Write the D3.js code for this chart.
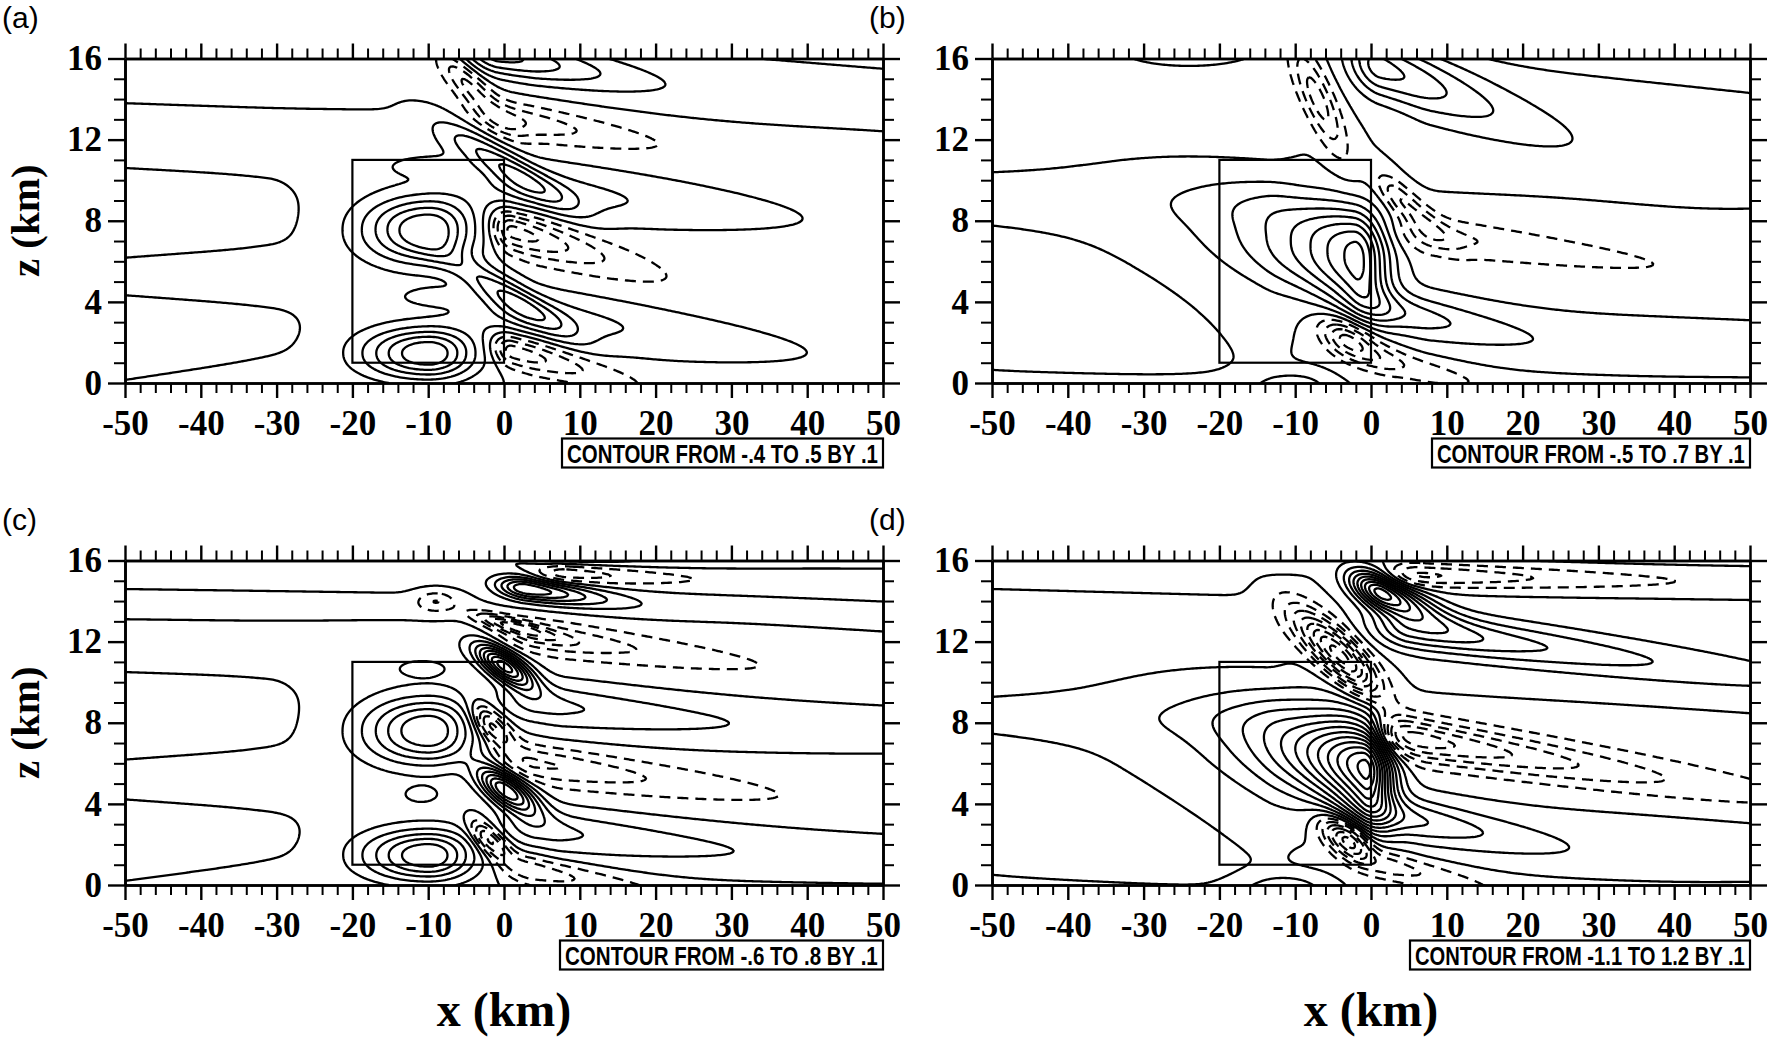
<!DOCTYPE html>
<html>
<head>
<meta charset="utf-8">
<script src="https://cdn.jsdelivr.net/npm/d3@7"></script>
<style>
  body { margin: 0; background: #fff; }
  svg text { fill: #000; }
</style>
</head>
<body>
<svg id="chart" width="1769" height="1038"></svg>
<script>
// contour levels written on each panel's legend
var levelsA = [-0.4, -0.3, -0.2, -0.1, 0, 0.1, 0.2, 0.3, 0.4, 0.5];
var levelsB = [-0.5, -0.4, -0.3, -0.2, -0.1, 0, 0.1, 0.2, 0.3, 0.4, 0.5, 0.6, 0.7];
var levelsC = [-0.6, -0.5, -0.4, -0.3, -0.2, -0.1, 0, 0.1, 0.2, 0.3, 0.4, 0.5, 0.6, 0.7, 0.8];
var levelsD = [-1.1, -1.0, -0.9, -0.8, -0.7, -0.6, -0.5, -0.4, -0.3, -0.2, -0.1, 0,
               0.1, 0.2, 0.3, 0.4, 0.5, 0.6, 0.7, 0.8, 0.9, 1.0, 1.1, 1.2];

var xTicks = [-50, -40, -30, -20, -10, 0, 10, 20, 30, 40, 50];
var xMinor = [-48, -46, -44, -42, -38, -36, -34, -32, -28, -26, -24, -22, -18, -16, -14, -12,
              -8, -6, -4, -2, 2, 4, 6, 8, 12, 14, 16, 18, 22, 24, 26, 28, 32, 34, 36, 38, 42, 44, 46, 48];
var zTicks = [0, 4, 8, 12, 16];
var zMinor = [1, 2, 3, 5, 6, 7, 9, 10, 11, 13, 14, 15];

// heating box (km)
var boxX = [-20, 0], boxZ = [1, 11];

// field features, in km
// lobe: [x0, z0, amp, wLeft, wRight, pLeft, pRight, h, q, ridge slope dz/dx]
var lobesA = [
  [-10, 7.55, 0.56, 8, 6, 2, 2, 1.55, 2.2, 0],
  [-10, 1.45, 0.56, 8, 6, 2, 2, 1.2, 2.2, 0],
  [-12, 6, 0.04, 13, 8, 2, 4, 6.5, 6, 0],
  [-10, 10.65, 0.085, 4.75, 4.75, 2, 2, 0.45, 2, 0],
  [-9.8, 4.25, 0.085, 4.75, 4.75, 2, 2, 0.5, 2, 0],
  [0.5, 10.6, 0.33, 8, 8, 2, 2, 0.85, 2, -0.22],
  [3, 9.5, 0.22, 8, 23, 2, 1.3, 1.2, 2, -0.04],
  [0.5, 4.3, 0.33, 8, 8, 2, 2, 0.85, 2, -0.22],
  [3, 3.3, 0.22, 8, 21.5, 2, 1.3, 1.2, 2, -0.045],
  [1, 7.5, -0.45, 2.5, 12, 2, 1.3, 1.0, 2, -0.11],
  [1, 1.6, -0.38, 2.5, 12, 2, 1.3, 0.8, 2, -0.1],
  [-4.5, 14.6, -0.3, 4, 5, 2, 2, 0.9, 2, -0.35],
  [2, 12.9, -0.28, 6, 15, 2, 1.2, 0.85, 2, -0.06],
  [-1, 16.2, 0.45, 5, 14, 2, 1.3, 1.0, 2, -0.07]
];
var lobesB = [
  [-50, 3.7, -0.13, 1000, 28, 2, 2, 3.3, 2, -0.065],
  [-45, -0.6, 0.12, 1000, 22, 2, 2, 1.0, 2, 0],
  [-24, 16.35, 0.09, 7.8, 7.8, 2, 2, 0.7, 2, 0],
  [-2, 6.15, 0.75, 11.9, 4, 1.3, 2, 2.4, 2.5, -0.1],
  [2, 3.6, 0.3, 5, 14, 2, 1.3, 1.0, 2, -0.07],
  [1, 15.6, 0.45, 4, 15, 2, 1.3, 1.5, 2, -0.14],
  [-7, 14, -0.35, 3.5, 3.5, 2, 2, 1.6, 2, -0.6],
  [4, 9, -0.3, 3, 5, 2, 2, 0.8, 2, -0.3],
  [8, 7.3, -0.2, 5, 25, 2, 1.1, 0.9, 2, -0.05],
  [-3, 2.1, -0.45, 3.5, 4, 2, 2, 0.9, 2, -0.15],
  [3, 1.0, -0.2, 4, 10, 2, 1.3, 0.7, 2, -0.08],
  [-10, -0.4, 0.25, 5, 4, 2, 2, 0.8, 2, 0]
];
var lobesC = [
  [-10, 7.6, 0.56, 8, 6, 2, 2, 1.55, 2.2, 0],
  [-10, 1.45, 0.56, 8, 6, 2, 2, 1.2, 2.2, 0],
  [-12, 6, 0.04, 13, 8, 2, 4, 6.5, 6, 0],
  [-10.8, 10.65, 0.09, 2.9, 2.9, 2, 2, 0.37, 2, 0],
  [-10.9, 4.45, 0.09, 3, 3, 2, 2, 0.52, 2, 0],
  [0, 10.8, 0.85, 3.6, 3.8, 2, 2, 0.75, 2, -0.2],
  [0.15, 4.7, 0.8, 3.6, 4.2, 2, 2, 0.85, 2, -0.2],
  [4, 9.0, 0.22, 5, 22, 2, 1.2, 1.0, 2, -0.04],
  [4, 2.8, 0.22, 5, 22, 2, 1.2, 1.0, 2, -0.04],
  [-1.8, 7.9, -0.5, 2.3, 3, 2, 2, 0.8, 2, -0.25],
  [4, 6.0, -0.3, 5, 22, 2, 1.2, 0.9, 2, -0.05],
  [-2, 2.2, -0.5, 2.3, 3, 2, 2, 0.7, 2, -0.25],
  [4, 0.7, -0.28, 4, 12, 2, 1.3, 0.7, 2, -0.06],
  [4, 12.3, -0.3, 5, 20, 2, 1.2, 0.8, 2, -0.05],
  [3, 14.6, 0.6, 4, 9, 2, 1.5, 0.55, 2, -0.05],
  [6, 16.4, 0.3, 3, 10, 2, 1.3, 0.5, 2, -0.03],
  [-9, 14, -0.18, 2.5, 2.5, 2, 2, 0.5, 2, 0],
  [8, 15.4, -0.25, 4, 14, 2, 1.3, 0.5, 2, -0.015],
  [0, 12.9, -0.4, 4, 6, 2, 2, 0.35, 2, -0.1]
];
var lobesD = [
  [-50, 3.75, -0.13, 1000, 30.7, 2, 2, 3.2, 2, -0.085],
  [-45, -0.9, 0.12, 1000, 24, 2, 2, 1.0, 2, 0],
  [-0.8, 5.8, 1.25, 11.5, 3.5, 1.3, 2, 2.3, 2, -0.1],
  [2, 3.5, 0.35, 5, 16, 2, 1.3, 1.0, 2, -0.07],
  [1.4, 14.4, 0.95, 4, 6, 2, 1.5, 0.85, 2, -0.15],
  [5, 12.6, 0.4, 5, 35, 2, 1.3, 1.0, 2, -0.05],
  [-4, 11.3, -0.85, 6, 5, 2, 2, 1.2, 2, -0.3],
  [4, 7.3, -0.55, 4, 30, 2, 1.2, 1.0, 2, -0.06],
  [-3, 2.2, -0.7, 3.5, 3, 2, 2, 0.9, 2, -0.2],
  [3, 0.9, -0.25, 4, 10, 2, 1.3, 0.7, 2, -0.08],
  [6, 15.3, -0.3, 4, 25, 2, 1.2, 0.6, 2, -0.01],
  [-11, -0.4, 0.25, 5.5, 4.5, 2, 2, 0.8, 2, 0]
];

// far-field layers: [xFrom, xTo, xEdge, zBottom, zTop, sign, slopeBottom, slopeTop]
var layersA = [
  [-70, -6, -50, 13.8, 17.5, -1, -0.013, 0],
  [-70, -6, -50, 10.6, 13.8, 1, -0.02, -0.013],
  [-70, -31, -50, 6.2, 10.6, -1, 0.025, -0.02],
  [-70, -31, -50, 4.3, 6.2, 1, -0.025, 0.025],
  [-70, -31, -50, 0.15, 4.3, -1, 0.057, -0.025],
  [-70, -31, -50, -1.5, 0.15, 1, 0, 0.057],
  [5, 70, 50, 15.6, 17.5, -1, -0.03, 0],
  [5, 70, 50, 12.5, 15.6, 1, -0.035, -0.03],
  [5, 70, 50, -1.5, 12.5, -1, 0, -0.035]
];
var layersB = [
  [-70, -14, -50, 10.3, 17.5, -1, 0, 0],
  [-70, -14, -50, 7.7, 10.3, 1, 0, 0],
  [-70, -14, -50, -1.5, 7.7, 1, 0, 0],
  [8, 70, 50, 14.3, 17.5, -1, -0.04, 0],
  [8, 70, 50, 8.8, 14.3, 1, -0.015, -0.04],
  [8, 70, 50, 3.1, 8.8, -1, -0.015, -0.015],
  [8, 70, 50, 0.3, 3.1, 1, -0.01, -0.015],
  [8, 70, 50, -1.5, 0.3, -1, 0, -0.01]
];
var layersC = [
  [-70, -8, -50, 14.6, 17.5, 1, -0.005, 0],
  [-70, -8, -50, 13.1, 14.6, -1, -0.005, -0.005],
  [-70, -8, -50, 10.5, 13.1, 1, -0.012, -0.005],
  [-70, -31, -50, 6.2, 10.5, -1, 0.025, -0.012],
  [-70, -31, -50, 4.2, 6.2, 1, -0.025, 0.025],
  [-70, -31, -50, 0.2, 4.2, -1, 0.05, -0.025],
  [-70, -31, -50, -1.5, 0.2, 1, 0, 0.05],
  [8, 70, 50, 15.6, 17.5, 1, 0, 0],
  [8, 70, 50, 14.0, 15.6, -1, -0.017, 0],
  [8, 70, 50, 12.5, 14.0, 1, -0.023, -0.017],
  [8, 70, 50, 8.9, 12.5, -1, -0.013, -0.023],
  [8, 70, 50, 6.8, 8.9, 1, 0, -0.013],
  [8, 70, 50, 2.6, 6.8, -1, -0.013, 0],
  [8, 70, 50, 0.2, 2.6, 1, -0.005, -0.013],
  [8, 70, 50, -1.5, 0.2, -1, 0, -0.005]
];
var layersD = [
  [-70, -14, -50, 14.6, 17.5, 1, -0.01, 0],
  [-70, -14, -50, 9.3, 14.6, -1, 0, -0.01],
  [-70, -14, -50, 7.2, 9.3, 1, 0, 0],
  [-70, -14, -50, -1.5, 7.2, 1, 0, 0],
  [8, 70, 50, 15.7, 17.5, 1, 0, 0],
  [8, 70, 50, 14.2, 15.7, -1, -0.01, 0],
  [8, 70, 50, 8.6, 14.2, 1, -0.02, -0.01],
  [8, 70, 50, 3.4, 8.6, -1, -0.015, -0.02],
  [8, 70, 50, 0.25, 3.4, 1, -0.01, -0.015],
  [8, 70, 50, -1.5, 0.25, -1, 0, -0.01]
];

var panels = [
  { tag: '(a)', ox: 125, oy: 58.5, lobes: lobesA, layers: layersA, levels: levelsA,
    legend: 'CONTOUR FROM -.4 TO .5 BY .1', legendW: 321 },
  { tag: '(b)', ox: 992, oy: 58.5, lobes: lobesB, layers: layersB, levels: levelsB,
    legend: 'CONTOUR FROM -.5 TO .7 BY .1', legendW: 318 },
  { tag: '(c)', ox: 125, oy: 560.5, lobes: lobesC, layers: layersC, levels: levelsC,
    legend: 'CONTOUR FROM -.6 TO .8 BY .1', legendW: 323 },
  { tag: '(d)', ox: 992, oy: 560.5, lobes: lobesD, layers: layersD, levels: levelsD,
    legend: 'CONTOUR FROM -1.1 TO 1.2 BY .1', legendW: 340 }
];

var W = 758, H = 324.5;
var nx = 401, nz = 257, gx0 = -50, gdx = 0.25, gdz = 0.0625;
var layerAmp = 0.04, layerFade = 4;

function lobeAt(L, xx, zz) {
  var dx = xx - L[0], left = dx < 0;
  var ex = Math.pow(Math.abs(dx) / (left ? L[3] : L[4]), left ? L[5] : L[6]);
  var ez = Math.pow(Math.abs(zz - L[1] - L[9] * dx) / L[7], L[8]);
  return L[2] * Math.exp(-ex - ez);
}

function layerAt(Y, xx, zz) {
  var d = Math.max(0, Y[0] - xx, xx - Y[1]) / layerFade;
  var zb = Y[3] + Y[6] * (xx - Y[2]), zt = Y[4] + Y[7] * (xx - Y[2]);
  var zc = (zb + zt) / 2, hz = (zt - zb) / 2, t = (zz - zc) / hz;
  return Y[5] * layerAmp * Math.exp(-d * d - t * t);
}

function fieldGrid(lobes, layers) {
  var v = new Array(nx * nz);
  for (var j = 0; j < nz; j++) {
    var zz = j * gdz;
    for (var i = 0; i < nx; i++) {
      var xx = gx0 + i * gdx, s = 0, k;
      for (k = 0; k < lobes.length; k++) s += lobeAt(lobes[k], xx, zz);
      for (k = 0; k < layers.length; k++) s += layerAt(layers[k], xx, zz);
      v[j * nx + i] = s;
    }
  }
  return v;
}

// drop the pieces of a ring that run along the grid border, keep isolines
function splitRing(ring) {
  var eps = 1e-9;
  function onB(p) { return p[0] <= eps || p[0] >= nx - eps || p[1] <= eps || p[1] >= nz - eps; }
  var n = ring.length - 1, segB = [], anyB = false, i;
  for (i = 0; i < n; i++) {
    var b = onB(ring[i]) && onB(ring[i + 1]);
    segB.push(b);
    if (b) anyB = true;
  }
  if (!anyB) return [ring];
  var start = segB.indexOf(true), lines = [], cur = [];
  for (var t = 1; t <= n; t++) {
    i = (start + t) % n;
    if (segB[i]) { if (cur.length > 1) lines.push(cur); cur = []; }
    else { if (!cur.length) cur.push(ring[i]); cur.push(ring[i + 1]); }
  }
  if (cur.length > 1) lines.push(cur);
  return lines;
}

var svg = d3.select('#chart');
var x = d3.scaleLinear().domain([-50, 50]).range([0, W]);
var z = d3.scaleLinear().domain([0, 16]).range([H, 0]);
var line = d3.line()
  .x(function (p) { return x(gx0 + (p[0] - 0.5) * gdx); })
  .y(function (p) { return z((p[1] - 0.5) * gdz); });

function styleTicks(sel, big) {
  sel.select('.domain').attr('stroke-width', 2.6).attr('stroke', '#000');
  sel.selectAll('.tick line').attr('stroke-width', big ? 2.4 : 2).attr('stroke', '#000');
  sel.selectAll('.tick text')
    .attr('font-family', '"Liberation Serif", "Times New Roman", serif')
    .attr('font-weight', 'bold')
    .attr('font-size', 35);
}

panels.forEach(function (P, pi) {
  var g = svg.append('g').attr('transform', 'translate(' + P.ox + ',' + P.oy + ')');
  var clipId = 'clip' + pi;
  g.append('clipPath').attr('id', clipId)
    .append('rect').attr('width', W).attr('height', H);

  var values = fieldGrid(P.lobes, P.layers);
  var contours = d3.contours().size([nx, nz]).thresholds(P.levels)(values);

  var cg = g.append('g').attr('clip-path', 'url(#' + clipId + ')');
  contours.forEach(function (c) {
    var paths = [];
    c.coordinates.forEach(function (poly) {
      poly.forEach(function (ring) {
        splitRing(ring).forEach(function (l) { paths.push(l); });
      });
    });
    cg.selectAll(null).data(paths).enter().append('path')
      .attr('d', line)
      .attr('fill', 'none')
      .attr('stroke', '#000')
      .attr('stroke-width', 2.3)
      .attr('stroke-linejoin', 'round')
      .attr('stroke-dasharray', c.value < -1e-9 ? '11,7' : null);
  });

  // heating box
  g.append('rect')
    .attr('x', x(boxX[0])).attr('y', z(boxZ[1]))
    .attr('width', x(boxX[1]) - x(boxX[0])).attr('height', z(boxZ[0]) - z(boxZ[1]))
    .attr('fill', 'none').attr('stroke', '#000').attr('stroke-width', 2.2);

  // axes: minor then major on all four sides
  var blank = function () { return ''; };
  g.append('g').attr('transform', 'translate(0,' + H + ')')
    .call(d3.axisBottom(x).tickValues(xMinor).tickSize(10).tickSizeOuter(0).tickFormat(blank)).call(styleTicks, false);
  g.append('g').attr('transform', 'translate(0,' + H + ')')
    .call(d3.axisBottom(x).tickValues(xTicks).tickSize(15).tickSizeOuter(0).tickPadding(12)
      .tickFormat(function (d) { return String(d); })).call(styleTicks, true);
  g.append('g')
    .call(d3.axisTop(x).tickValues(xMinor).tickSize(10).tickSizeOuter(0).tickFormat(blank)).call(styleTicks, false);
  g.append('g')
    .call(d3.axisTop(x).tickValues(xTicks).tickSize(15).tickSizeOuter(0).tickFormat(blank)).call(styleTicks, true);
  g.append('g')
    .call(d3.axisLeft(z).tickValues(zMinor).tickSize(11).tickSizeOuter(0).tickFormat(blank)).call(styleTicks, false);
  g.append('g')
    .call(d3.axisLeft(z).tickValues(zTicks).tickSize(17).tickSizeOuter(0).tickPadding(6)
      .tickFormat(function (d) { return String(d); })).call(styleTicks, true);
  g.append('g').attr('transform', 'translate(' + W + ',0)')
    .call(d3.axisRight(z).tickValues(zMinor).tickSize(11).tickSizeOuter(0).tickFormat(blank)).call(styleTicks, false);
  g.append('g').attr('transform', 'translate(' + W + ',0)')
    .call(d3.axisRight(z).tickValues(zTicks).tickSize(17).tickSizeOuter(0).tickFormat(blank)).call(styleTicks, true);

  // legend box, text squeezed to the box width like the condensed original
  var lx = W - P.legendW, ly = H + 55.5;
  g.append('rect').attr('x', lx).attr('y', ly).attr('width', P.legendW).attr('height', 29)
    .attr('fill', 'none').attr('stroke', '#000').attr('stroke-width', 2.2);
  var lt = g.append('text')
    .attr('font-family', '"Liberation Sans", Arial, sans-serif').attr('font-weight', 'bold')
    .attr('font-size', 26).text(P.legend);
  var len = lt.node().getComputedTextLength();
  lt.attr('transform', 'translate(' + (lx + 5) + ',' + (ly + 24) + ') scale(' + ((P.legendW - 10) / len) + ',1)');

  // panel tag
  svg.append('text').attr('x', P.ox - 123).attr('y', P.oy - 30.5)
    .attr('font-family', '"Liberation Sans", Arial, sans-serif').attr('font-size', 30)
    .text(P.tag);
});

// axis titles
[58.5, 560.5].forEach(function (oy) {
  svg.append('text')
    .attr('transform', 'translate(39,' + (oy + H / 2) + ') rotate(-90)')
    .attr('text-anchor', 'middle')
    .attr('font-family', '"Liberation Serif", "Times New Roman", serif')
    .attr('font-weight', 'bold').attr('font-size', 41)
    .text('z (km)');
});
[125, 992].forEach(function (ox) {
  svg.append('text')
    .attr('x', ox + W / 2).attr('y', 1026)
    .attr('text-anchor', 'middle')
    .attr('font-family', '"Liberation Serif", "Times New Roman", serif')
    .attr('font-weight', 'bold').attr('font-size', 48)
    .text('x (km)');
});
</script>
</body>
</html>
